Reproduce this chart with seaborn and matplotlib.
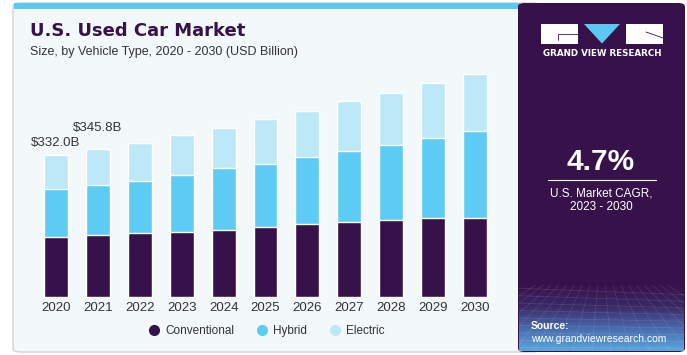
import numpy as np
import pandas as pd
import matplotlib
matplotlib.use("Agg")
import matplotlib.pyplot as plt
from matplotlib.patches import FancyBboxPatch, Rectangle, Polygon
from matplotlib.lines import Line2D
from matplotlib.colors import LinearSegmentedColormap
import seaborn as sns

# data (USD Billion)
years = ["2020", "2021", "2022", "2023", "2024", "2025", "2026", "2027", "2028", "2029", "2030"]
conventional = [138.9, 143.6, 148.3, 151.3, 155.3, 162.3, 169.4, 174.1, 178.8, 183.5, 184.9]
hybrid = [113.3, 118.0, 123.4, 134.4, 146.9, 149.2, 158.6, 168.0, 176.7, 188.4, 203.4]
electric = [79.8, 84.2, 88.4, 93.2, 93.8, 104.9, 107.2, 117.3, 121.9, 129.0, 133.7]
labels = {"2020": "$332.0B", "2021": "$345.8B"}

df = pd.DataFrame({"year": years, "Conventional": conventional, "Hybrid": hybrid, "Electric": electric})
df["c1"] = df["Conventional"]
df["c2"] = df["c1"] + df["Hybrid"]
df["c3"] = df["c2"] + df["Electric"]

C_CONV = "#37124a"
C_HYB = "#5ecbf5"
C_ELEC = "#bde8f8"
BG = "#f3f8fb"

sns.set_theme(style="white")
plt.rcParams["font.family"] = ["Liberation Sans", "DejaVu Sans"]

W, H = 687, 355
fig = plt.figure(figsize=(W / 100, H / 100), dpi=100)
fig.patch.set_facecolor("white")

def fx(x):
    return x / W

def fy(y):
    return 1 - y / H

# card background
card = FancyBboxPatch((fx(13), fy(352)), fx(540 - 13), (352 - 3) / H,
                      boxstyle="round,pad=0,rounding_size=0.01", transform=fig.transFigure,
                      facecolor=BG, edgecolor="#c8c8c8", linewidth=0.8, zorder=0)
fig.add_artist(card)
fig.add_artist(Rectangle((fx(14), fy(8.5)), fx(520 - 14), 5.5 / H, transform=fig.transFigure,
                         facecolor="#5bc8f2", edgecolor="none", zorder=1))

# right panel
fig.add_artist(FancyBboxPatch((fx(518), fy(352)), fx(685 - 518), (352 - 3) / H,
                              boxstyle="round,pad=0,rounding_size=0.01", transform=fig.transFigure,
                              facecolor=C_CONV, edgecolor="none", zorder=2))
gax = fig.add_axes([fx(519), fy(351), fx(684 - 519), (351 - 285) / H], zorder=3)
grad = np.linspace(0, 1, 100).reshape(-1, 1)
cmap = LinearSegmentedColormap.from_list("g", ["#5aa6dc", "#4a6cae", "#3a2a66", C_CONV])
gax.imshow(grad, aspect="auto", cmap=cmap, extent=[0, 1, 0, 1], origin="lower")
for yy in np.linspace(0.05, 0.95, 9):
    gax.plot([0, 1], [yy, yy * 0.9], color="white", alpha=0.12, lw=0.5)
for xx in np.linspace(-0.5, 1.5, 18):
    gax.plot([xx, 0.5 + (xx - 0.5) * 0.4], [0, 1], color="white", alpha=0.12, lw=0.5)
gax.set_xlim(0, 1)
gax.set_ylim(0, 1)
gax.axis("off")

# logo
fig.add_artist(Rectangle((fx(541), fy(43.5)), fx(37), 19.5 / H, transform=fig.transFigure,
                         facecolor="white", edgecolor="none", zorder=4))
fig.add_artist(Rectangle((fx(626), fy(43.5)), fx(37), 19.5 / H, transform=fig.transFigure,
                         facecolor="white", edgecolor="none", zorder=4))
fig.add_artist(Polygon([(fx(584), fy(24)), (fx(620), fy(24)), (fx(602), fy(43.5))],
                       transform=fig.transFigure, facecolor="#5bc8f2", edgecolor="none", zorder=4))
fig.add_artist(Line2D([fx(558), fx(558), fx(578)], [fy(40), fy(33.5), fy(33.5)],
                      transform=fig.transFigure, color=C_CONV, lw=0.6, zorder=5))
fig.add_artist(Line2D([fx(646), fx(663)], [fy(32), fy(38)],
                      transform=fig.transFigure, color=C_CONV, lw=0.6, zorder=5))
fig.text(fx(602), fy(54), "GRAND VIEW RESEARCH", color="white", fontsize=6.3,
         fontweight="bold", ha="center", va="center", zorder=5,
         family=["DejaVu Sans"])

fig.text(fx(601), fy(162), "4.7%", color="white", fontsize=21.5, fontweight="bold",
         ha="center", va="center", zorder=5)
fig.add_artist(Line2D([fx(548), fx(656)], [fy(180), fy(180)], transform=fig.transFigure,
                      color="white", lw=0.8, zorder=5))
fig.text(fx(601), fy(193), "U.S. Market CAGR,", color="white", fontsize=8.5,
         ha="center", va="center", zorder=5)
fig.text(fx(601), fy(207.5), "2023 - 2030", color="white", fontsize=8.5,
         ha="center", va="center", zorder=5)
fig.text(fx(531), fy(326), "Source:", color="white", fontsize=7.5, fontweight="bold",
         ha="left", va="center", zorder=5)
fig.text(fx(531), fy(339.5), "www.grandviewresearch.com", color="white", fontsize=7.5,
         ha="left", va="center", zorder=5)

# titles
fig.text(fx(30), fy(31), "U.S. Used Car Market", color=C_CONV, fontsize=13,
         fontweight="heavy", ha="left", va="center", zorder=5, family=["DejaVu Sans"])
fig.text(fx(30), fy(52), "Size, by Vehicle Type, 2020 - 2030 (USD Billion)", color="#333333",
         fontsize=9, ha="left", va="center", zorder=5)

# bars
ax = fig.add_axes([fx(35), fy(296.5), fx(496 - 35), (296.5 - 40) / H], zorder=3)
ax.patch.set_alpha(0)
sns.barplot(data=df, x="year", y="c3", color=C_ELEC, width=0.57, saturation=1, ax=ax)
sns.barplot(data=df, x="year", y="c2", color=C_HYB, width=0.57, saturation=1, ax=ax)
sns.barplot(data=df, x="year", y="c1", color=C_CONV, width=0.57, saturation=1, ax=ax)
ax.set_xlim(-0.5, len(years) - 0.5)
ax.set_ylim(0, 256.5 * 2.346)
ax.set_xlabel("")
ax.set_ylabel("")
ax.set_yticks([])
ax.tick_params(axis="x", length=0, pad=4, labelsize=9.5, labelcolor="#333333")
sns.despine(ax=ax, left=True, bottom=True)

offsets = {"2020": 15, "2021": 35}
for i, yr in enumerate(years):
    if yr in labels:
        ax.text(i, df["c3"][i] + offsets[yr], labels[yr], ha="center", va="bottom",
                fontsize=9.5, color="#333333")

handles = [Line2D([], [], marker="o", linestyle="", markersize=7, color=c, label=l)
           for c, l in [(C_CONV, "Conventional"), (C_HYB, "Hybrid"), (C_ELEC, "Electric")]]
fig.legend(handles=handles, loc="center", bbox_to_anchor=(fx(267), fy(331)), ncol=3,
           frameon=False, fontsize=8.5, handlelength=0.8, handletextpad=0.5,
           columnspacing=2.0, labelcolor="#333333")

fig.savefig("out.png", dpi=100)
